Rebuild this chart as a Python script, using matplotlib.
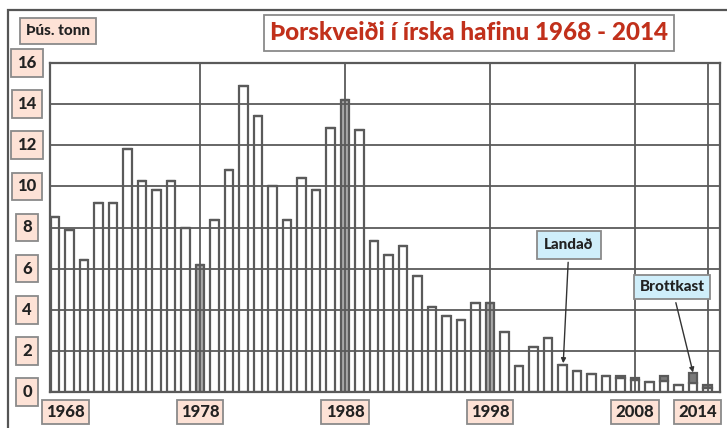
import matplotlib
matplotlib.use("Agg")
import matplotlib.pyplot as plt
import matplotlib.transforms as mtransforms
from matplotlib.patches import Rectangle
import numpy as np

plt.rcParams["font.family"] = ["Lato", "DejaVu Sans"]
plt.rcParams["font.weight"] = "black"

# ---- data (thousand tonnes) ------------------------------------------
years = list(range(1968, 2014))
landed = [8.5, 7.9, 6.4, 9.2, 9.2, 11.8, 10.25, 9.8, 10.25, 8.0,
          6.2, 8.35, 10.8, 14.9, 13.4, 10.0, 8.35, 10.4, 9.8, 12.85,
          14.2, 12.75, 7.35, 6.65, 7.1, 5.65, 4.15, 3.7, 3.5, 4.35,
          4.35, 2.9, 1.25, 2.2, 2.65, 1.3, 1.0, 0.86, 0.78, 0.66,
          0.6, 0.5, 0.52, 0.34, 0.45, 0.2]
discards = [0.0] * 39 + [0.1, 0.1, 0.0, 0.28, 0.0, 0.45, 0.14]
yticks = [0, 2, 4, 6, 8, 10, 12, 14, 16]
xlabel_years = [1968, 1978, 1988, 1998, 2008, 2014]
title = "Þorskveiði í írska hafinu 1968 - 2014"
unit = "Þús. tonn"

PINK = "#fde2d6"
BLUE = "#cfeefa"
EDGE = "#8a8a8a"
LINE = "#5a5a5a"

fig = plt.figure(figsize=(7.27, 4.28), dpi=100)
W, H = 727, 428


def fx(px):
    return px / W


def fy(py):
    return 1 - py / H


ax = fig.add_axes([fx(50), fy(392), fx(720) - fx(50), fy(63) - fy(392)])

idx = np.arange(len(years))
face = ["#a8a8a8" if y in (1978, 1988, 1998) else "white" for y in years]
ax.bar(idx, landed, width=0.6, color=face, edgecolor=LINE, linewidth=1.6,
       zorder=2)
ax.bar(idx, discards, width=0.6, bottom=landed, color="#7a7a7a",
       edgecolor=LINE, linewidth=1.6, zorder=2)

ax.set_xlim(-0.345, 45.86)
ax.set_ylim(0, 16)
for v in yticks[1:-1]:
    ax.axhline(v, color=LINE, lw=1.3, zorder=3)
for y in [1978, 1988, 1998, 2008]:
    ax.axvline(y - 1968, color=LINE, lw=1.3, zorder=3)
ax.axvline(len(years) - 1, color=LINE, lw=1.3, zorder=3)
for s in ax.spines.values():
    s.set_color(LINE)
    s.set_linewidth(1.6)
    s.set_zorder(4)
ax.set_xticks([])
ax.set_yticks([])

# y tick labels in pink boxes
trans_y = mtransforms.blended_transform_factory(ax.transAxes, ax.transData)
for v in yticks:
    ax.text((27 - 50) / 670, v, str(v), transform=trans_y, ha="center",
            va="center", fontsize=12, fontweight="black", color="#222",
            bbox=dict(boxstyle="square,pad=0.35", fc=PINK, ec=EDGE, lw=1.3),
            clip_on=False)

# x labels in pink boxes
trans_x = mtransforms.blended_transform_factory(ax.transData, fig.transFigure)
shift = {1968: 0.7, 2014: -1.7}
for y in xlabel_years:
    pos = y - 1968 + shift.get(y, 0.0)
    ax.text(pos, fy(412), str(y), transform=trans_x, ha="center",
            va="center", fontsize=12, fontweight="black", color="#222",
            bbox=dict(boxstyle="square,pad=0.25", fc=PINK, ec=EDGE, lw=1.3),
            clip_on=False)

fig.text(fx(58), fy(31), unit, ha="center", va="center", fontsize=11,
         fontweight="black", color="#222",
         bbox=dict(boxstyle="square,pad=0.4", fc=PINK, ec=EDGE, lw=1.3))

fig.text(fx(469), fy(33), title, ha="center", va="center", fontsize=17.5,
         fontweight="black", color="#c1301b",
         bbox=dict(boxstyle="square,pad=0.25", fc="white", ec=EDGE, lw=1.3))

# outer frame
fig.patches.append(Rectangle((fx(8), -0.1), 1.2, fy(10) + 0.1,
                             transform=fig.transFigure, fill=False,
                             ec="#555", lw=1.6))

# annotations
i_land = years.index(2003)
ax.annotate("Landað", xy=(i_land + 0.05, landed[i_land] + 0.1),
            xytext=(fx(569), fy(245)), textcoords="figure fraction",
            ha="center", va="center", fontsize=11, fontweight="black",
            color="#222",
            bbox=dict(boxstyle="square,pad=0.45", fc=BLUE, ec=EDGE, lw=1.3),
            arrowprops=dict(arrowstyle="-|>", color="#333", lw=1.0,
                            mutation_scale=7, shrinkA=2, shrinkB=0))
i_disc = years.index(2012)
ax.annotate("Brottkast", xy=(i_disc, landed[i_disc] + discards[i_disc] + 0.05),
            xytext=(fx(672), fy(287)), textcoords="figure fraction",
            ha="center", va="center", fontsize=11, fontweight="black",
            color="#222",
            bbox=dict(boxstyle="square,pad=0.35", fc=BLUE, ec=EDGE, lw=1.3),
            arrowprops=dict(arrowstyle="-|>", color="#333", lw=1.0,
                            mutation_scale=7, shrinkA=2, shrinkB=0))

fig.savefig("out.png", dpi=100)
